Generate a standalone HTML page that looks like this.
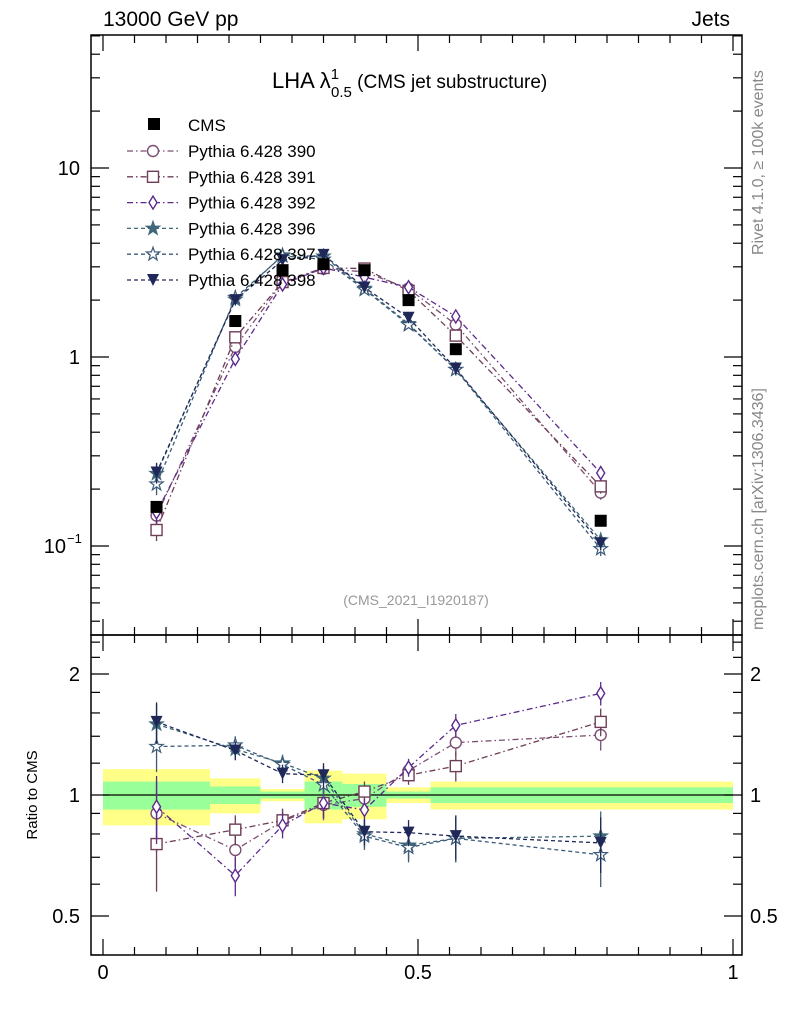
<!DOCTYPE html>
<html><head><meta charset="utf-8"><style>
body{margin:0;background:#fff;}
svg{display:block;font-family:"Liberation Sans",Arial,sans-serif;}
</style></head><body>
<svg id="c" width="786" height="1024" viewBox="0 0 786 1024"></svg>
<script>
const bins=[0,0.17,0.25,0.32,0.38,0.45,0.52,0.6,1.0];
const xs=[0.085,0.21,0.285,0.35,0.415,0.485,0.56,0.79];
const cms=[0.161,1.55,2.88,3.1,2.88,2.0,1.1,0.136];
const bandIn=[0.08,0.05,0.02,0.08,0.065,0.02,0.045,0.045];
const bandOut=[0.16,0.10,0.035,0.15,0.13,0.045,0.08,0.08];
const names=["Pythia 6.428 390","Pythia 6.428 391","Pythia 6.428 392","Pythia 6.428 396","Pythia 6.428 397","Pythia 6.428 398"];
const r390=[0.90,0.73,0.86,0.945,0.98,1.15,1.35,1.41];
const r391=[0.755,0.82,0.865,0.955,1.02,1.12,1.18,1.52];
const r392=[0.935,0.63,0.84,0.955,0.918,1.17,1.49,1.79];
const r396=[1.50,1.30,1.20,1.10,0.80,0.75,0.78,0.79];
const r397=[1.32,1.33,1.19,1.06,0.79,0.74,0.78,0.71];
const r398=[1.52,1.29,1.13,1.12,0.81,0.806,0.79,0.76];
const rerr=[0.18,0.07,0.06,0.08,0.06,0.06,0.1,0.12];
const ratios=[r390,r391,r392,r396,r397,r398];
const cols=["#7b4f72","#6e3d58","#5b2a8c","#3f6878","#3d5b78","#1f2858"];
const marks=["circle","square","diamond","fstar","star","tri"];
const dashes=["6,3,1.5,3","6,3,1.5,3","6,3,1.5,3","4,3","4,3","4,3"];
const L=91,R=742,T=35,B1=635,B2=955;
const X=v=>103+630*v;
const Y=v=>357-189*Math.log10(v);
const YR=v=>795-402*Math.log10(v);
const svg=document.getElementById('c');
const NS="http://www.w3.org/2000/svg";
function el(t,a,p){const e=document.createElementNS(NS,t);for(const k in a)e.setAttribute(k,a[k]);(p||svg).appendChild(e);return e;}
function txt(s,a,p){const e=el('text',a,p);e.textContent=s;return e;}
bins.slice(0,-1).forEach((b,i)=>{
 const r=el('rect',{x:X(b),y:YR(1+bandOut[i]),width:X(bins[i+1])-X(b),height:YR(1-bandOut[i])-YR(1+bandOut[i]),fill:"#ffff88"});
 
 
 const g=el('rect',{x:X(b),y:YR(1+bandIn[i]),width:X(bins[i+1])-X(b),height:YR(1-bandIn[i])-YR(1+bandIn[i]),fill:"#99ff99"});
 
 
});
const ref=el('line',{x1:X(0),x2:X(1),y1:YR(1),y2:YR(1),stroke:"#000","stroke-width":1.3});


[[T,B1,'main-frame'],[B1,B2,'ratio-frame']].forEach(f=>{const r=el('rect',{x:L,y:f[0],width:R-L,height:f[1]-f[0],fill:"none",stroke:"#000","stroke-width":1.5});

});
function tk(x1,y1,x2,y2){el('line',{x1,y1,x2,y2,stroke:"#000","stroke-width":1.2});}
for(let v=0;v<=1.0001;v+=0.05){const x=X(v);const maj=Math.abs(v*10-Math.round(v*10))<1e-6&&Math.round(v*10)%5==0;const len=maj?16:8;
 [[T,1],[B1,-1],[B1,1],[B2,-1]].forEach(([y,d])=>tk(x,y,x,y+d*len));}
for(let e=-2;e<=1;e++)for(let m=1;m<10;m++){const v=m*Math.pow(10,e);const y=Y(v);if(y<T||y>B1)continue;const len=m==1?18:9;tk(L,y,L+len,y);tk(R,y,R-len,y);}
[0.4,0.5,0.6,0.7,0.8,0.9,1,1.2,1.4,1.6,1.8,2,2.2,2.4].forEach(v=>{const y=YR(v);const len=(v==0.5||v==1||v==2)?18:9;tk(L,y,L+len,y);tk(R,y,R-len,y);});
[["10",Y(10)],["1",Y(1)]].forEach(([s,y])=>txt(s,{x:80,y:y+7,"font-size":20,"text-anchor":"end"}));
const t01=txt("10",{x:66,y:Y(0.1)+7,"font-size":20,"text-anchor":"end"});
txt("−1",{x:67,y:Y(0.1)-3,"font-size":13});
[["2",YR(2)],["1",YR(1)],["0.5",YR(0.5)]].forEach(([s,y])=>{txt(s,{x:80,y:y+7,"font-size":20,"text-anchor":"end"});txt(s,{x:750,y:y+7,"font-size":20});});
[["0",0],["0.5",0.5],["1",1]].forEach(([s,v])=>txt(s,{x:X(v),y:979,"font-size":20,"text-anchor":"middle"}));
const h1=txt("13000 GeV pp",{x:103,y:26,"font-size":21});
const h2=txt("Jets",{x:730,y:26,"font-size":21,"text-anchor":"end"});
const g1=txt("Rivet 4.1.0, ≥ 100k events",{transform:"translate(763,255) rotate(-90)","font-size":16,fill:"#888"});
const g2=txt("mcplots.cern.ch [arXiv:1306.3436]",{transform:"translate(763,630) rotate(-90)","font-size":16,fill:"#888"});
const yt=txt("Ratio to CMS",{transform:"translate(37,795) rotate(-90)","font-size":15,"text-anchor":"middle"});
const an=txt("(CMS_2021_I1920187)",{x:416,y:605,"font-size":14,fill:"#999","text-anchor":"middle"});
const ti=el('text',{x:272,y:88,"font-size":22});
ti.innerHTML='LHA λ<tspan font-size="15" dy="-9">1</tspan><tspan font-size="15" dx="-8" dy="18">0.5</tspan><tspan font-size="19" dy="-9"> (CMS jet substructure)</tspan>';
function marker(type,x,y,c,p){const s=5.5;let e;
 if(type=="circle")e=el('circle',{cx:x,cy:y,r:s,fill:"#fff",stroke:c,"stroke-width":1.4},p);
 else if(type=="square")e=el('rect',{x:x-s,y:y-s,width:2*s,height:2*s,fill:"#fff",stroke:c,"stroke-width":1.4},p);
 else if(type=="diamond")e=el('polygon',{points:`${x},${y-6.5} ${x+4},${y} ${x},${y+6.5} ${x-4},${y}`,fill:"#fff",stroke:c,"stroke-width":1.4},p);
 else if(type=="tri")e=el('polygon',{points:`${x-6},${y-6} ${x+6},${y-6} ${x},${y+6}`,fill:c},p);
 else{let pts=[];for(let k=0;k<10;k++){const rr=k%2?2.8:7,a=-Math.PI/2+k*Math.PI/5;pts.push((x+rr*Math.cos(a)).toFixed(1)+","+(y+rr*Math.sin(a)).toFixed(1));}
  e=el('polygon',{points:pts.join(" "),fill:type=="fstar"?c:"#fff",stroke:c,"stroke-width":1.2},p);}
 return e;}
ratios.forEach((rs,i)=>{
 const g=el('g',{});
 
 
 const main=xs.map((x,j)=>[X(x),Y(cms[j]*rs[j])]);
 const rat=xs.map((x,j)=>[X(x),YR(rs[j])]);
 [main,rat].forEach(pts=>el('polyline',{points:pts.map(p=>p.join(",")).join(" "),fill:"none",stroke:cols[i],"stroke-width":1.3,"stroke-dasharray":dashes[i]},g));
 xs.forEach((x,j)=>{const v=cms[j]*rs[j];
  el('line',{x1:X(x),x2:X(x),y1:Y(v*(1+rerr[j]*0.7)),y2:Y(v*(1-rerr[j]*0.7)),stroke:cols[i],"stroke-width":1.3},g);
  el('line',{x1:X(x),x2:X(x),y1:YR(rs[j]+rerr[j]),y2:YR(rs[j]-rerr[j]),stroke:cols[i],"stroke-width":1.3},g);
  marker(marks[i],X(x),Y(v),cols[i],g);marker(marks[i],X(x),YR(rs[j]),cols[i],g);});
});
xs.forEach((x,j)=>{const r=el('rect',{x:X(x)-6,y:Y(cms[j])-6,width:12,height:12,fill:"#000"});
 
 });
const lg=el('g',{});
el('rect',{x:148,y:118,width:12,height:12,fill:"#000"},lg);
txt("CMS",{x:188,y:131,"font-size":17},lg);
names.forEach((n,i)=>{const y=151+i*25.8;
 const e=el('g',{},lg);
 el('line',{x1:127,x2:178,y1:y,y2:y,stroke:cols[i],"stroke-width":1.3,"stroke-dasharray":dashes[i]},e);
 marker(marks[i],153,y,cols[i],e);
 txt(n,{x:188,y:y+6,"font-size":17},e);});
</script>
</body></html>
